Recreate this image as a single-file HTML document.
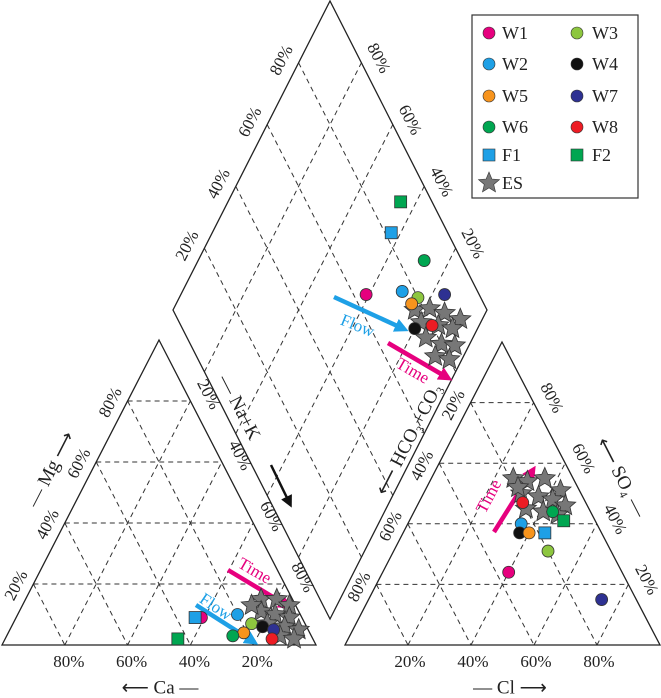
<!DOCTYPE html>
<html><head><meta charset="utf-8">
<style>
body{margin:0;background:#fff;}
svg{display:block;font-family:"Liberation Serif",serif;}
</style></head>
<body>
<svg id="chart" width="661" height="698" viewBox="0 0 661 698" xmlns="http://www.w3.org/2000/svg">
<defs>
<marker id="ahK" markerWidth="12" markerHeight="12" refX="8" refY="6" orient="auto" markerUnits="userSpaceOnUse"><path d="M0,0 L12,6 L0,12 Z" fill="#111"/></marker>
<marker id="ahM" markerWidth="14" markerHeight="14" refX="9" refY="7" orient="auto" markerUnits="userSpaceOnUse"><path d="M0,0 L14,7 L0,14 Z" fill="#e6007e"/></marker>
<marker id="ahB" markerWidth="14" markerHeight="14" refX="9" refY="7" orient="auto" markerUnits="userSpaceOnUse"><path d="M0,0 L14,7 L0,14 Z" fill="#1ea0e6"/></marker>
</defs>
<g id="grid"></g>
<g id="frames"></g>
<g id="labels"></g>
<g id="marks"></g>
<g id="legend"></g>
</svg>
<script>
// ---- data (percentages) ----
const sampleNames = ["W1","W2","W3","W4","W5","W6","W7","W8","F1","F2"];
const sampleMg  = [9, 10, 7, 6, 4, 3, 5, 2, 9, 2];
const sampleNaK = [59, 70, 76, 80, 75, 72, 84, 85, 57, 55];
const sampleSO4 = [24, 40, 31, 37, 37, 44, 15, 47, 37, 41];
const sampleCl  = [40, 36, 49, 37, 40, 44, 74, 33, 45, 49];
const starMg  = [15, 15, 13, 11, 10, 9, 7, 6, 5, 3, 2, 13];
const starNaK = [75, 80, 85, 77, 82, 87, 81, 87, 92, 87, 92, 73];
const starSO4 = [55, 54, 55, 51, 50, 49, 48, 46, 45, 44, 43, 52];
const starCl  = [26, 31, 36, 43, 31, 37, 42, 47, 35, 41, 46, 29];
const starDiaNaK = [77, 81.5, 87, 93, 81, 87, 92, 85, 91, 95.5, 91, 96];
const starDiaS   = [77, 82, 86, 90, 77, 82, 86, 76, 80, 84, 76, 80];
const tickPct = [20, 40, 60, 80];
const tickLabels = ["20%","40%","60%","80%"];

const colors = {W1:"#e6007e",W2:"#1ea0e6",W3:"#8dc63f",W4:"#111111",W5:"#f7941d",W6:"#00a651",W7:"#2e3192",W8:"#ed1c24",F1:"#1ea0e6",F2:"#00a651"};
const NS="http://www.w3.org/2000/svg";

const LT={bl:[2,645],br:[316,645],ap:[159,340]};
const RT={bl:[345,645],br:[660,645],ap:[502,342]};
const DM={b:[330,619],l:[173,310],r:[487,310],t:[330,1]};

function tri(T,a,b,c){
  return [T.bl[0]*a+T.ap[0]*b+T.br[0]*c, T.bl[1]*a+T.ap[1]*b+T.br[1]*c];
}
function leftPt(mg,nak){mg/=100;nak/=100;return tri(LT,1-mg-nak,mg,nak);}
function rightPt(so4,cl){so4/=100;cl/=100;return tri(RT,1-so4-cl,so4,cl);}
function diaPt(nak,s){const a=1-nak/100,b=s/100;
  return [DM.b[0]+a*(DM.l[0]-DM.b[0])+b*(DM.r[0]-DM.b[0]), DM.b[1]+a*(DM.l[1]-DM.b[1])+b*(DM.r[1]-DM.b[1])];}

function mk(tag,attrs,parent){const e=document.createElementNS(NS,tag);for(const k in attrs)e.setAttribute(k,attrs[k]);parent.appendChild(e);return e;}
const G=id=>document.getElementById(id);

const grid=G("grid");
function dash(p,q,name){const l=mk("line",{x1:p[0],y1:p[1],x2:q[0],y2:q[1],stroke:"#333","stroke-width":1,"stroke-dasharray":"5,4"},grid);
  
  }
tickPct.forEach(k=>{const f=k/100;
  dash(tri(LT,1-f,f,0),tri(LT,0,f,1-f),'cation-grid-mg');
  dash(tri(LT,f,1-f,0),tri(LT,f,0,1-f),'cation-grid-ca');
  dash(tri(LT,1-f,0,f),tri(LT,0,1-f,f),'cation-grid-nak');
  dash(tri(RT,1-f,f,0),tri(RT,0,f,1-f),'anion-grid-so4');
  dash(tri(RT,f,1-f,0),tri(RT,f,0,1-f),'anion-grid-hco3');
  dash(tri(RT,1-f,0,f),tri(RT,0,1-f,f),'anion-grid-cl');
  dash(diaPt(k,0),diaPt(k,100),'diamond-grid-nak');
  dash(diaPt(0,k),diaPt(100,k),'diamond-grid-s');
});
const fr=G("frames");
function poly(pts,name){const p=mk("polygon",{points:pts.map(q=>q.join(",")).join(" "),fill:"none",stroke:"#222","stroke-width":1.3},fr);
  
  }
poly([LT.bl,LT.ap,LT.br],'cation-triangle');
poly([RT.bl,RT.ap,RT.br],'anion-triangle');
poly([DM.b,DM.l,DM.t,DM.r],'diamond-field');

const lb=G("labels");
function txt(x,y,s,rot,name,size,fill){const t=mk("text",{x:x,y:y,"text-anchor":"middle","dominant-baseline":"middle","font-size":size||17,fill:fill||"#222",transform:rot?`rotate(${rot} ${x} ${y})`:""},lb);
  t.textContent=s;
  
  return t;}
const A=62.8;
tickPct.forEach((k,i)=>{const f=k/100,L=tickLabels[i];
  let p=tri(LT,f,0,1-f); txt(p[0]+4,663,L,0,'ca-tick-label');
  p=tri(LT,1-f,f,0); txt(p[0]-16,p[1]+2,L,-A,'mg-tick-label');
  p=tri(LT,0,1-f,f); txt(p[0]+17,p[1]-6,L,A,'nak-tick-label');
  p=tri(RT,1-f,0,f); txt(p[0]+2,663,L,0,'cl-tick-label');
  p=tri(RT,f,1-f,0); txt(p[0]-16,p[1]+3,L,-A,'hco3-tick-label');
  p=tri(RT,0,f,1-f); txt(p[0]+17,p[1]-4,L,A,'so4-tick-label');
  p=diaPt(100-k,100); txt(p[0]+16,p[1]-4,L,A,'diamond-ne-tick-label');
  p=diaPt(0,k); txt(p[0]-16,p[1]-2,L,-A,'diamond-nw-tick-label');
});
txt(160,689,"\u27F5 Ca \u2014",0,'ca-axis-title',19);
txt(510,689,"\u2014 Cl \u27F6",0,'cl-axis-title',19);
txt(52,470,"\u2014 Mg \u27F6",-A,'mg-axis-title',19);
txt(238,408,"\u2014 Na+K",A,'nak-axis-title',19);
txt(620,478,"\u27F5 SO\u2084 \u2014",A,'so4-axis-title',19);
txt(410,440,"\u27F5 HCO\u2083+CO\u2083",-A,'hco3-axis-title',19);
(function(){const l=mk("line",{x1:271,y1:465,x2:290,y2:504,stroke:"#111","stroke-width":2.5,"marker-end":"url(#ahK)"},lb);
  
  })();

function arrow(x1,y1,x2,y2,col,m,name){const l=mk("line",{x1:x1,y1:y1,x2:x2,y2:y2,stroke:col,"stroke-width":4.5,"marker-end":`url(#${m})`},lb);
  
  }
arrow(334,297,404,329,"#1ea0e6","ahB",'diamond-flow-arrow');
txt(357,327,"Flow",22,'diamond-flow-label',17,"#1ea0e6");
arrow(388,343,448,378,"#e6007e","ahM",'diamond-time-arrow');
txt(412,372,"Time",30,'diamond-time-label',17,"#e6007e");
arrow(228,570,288,606,"#e6007e","ahM",'cation-time-arrow');
txt(254,572,"Time",30,'cation-time-label',17,"#e6007e");
arrow(196,605,254,642,"#1ea0e6","ahB",'cation-flow-arrow');
txt(215,608,"Flow",34,'cation-flow-label',17,"#1ea0e6");
arrow(494,532,533,470,"#e6007e","ahM",'anion-time-arrow');
txt(490,497,"Time",-62,'anion-time-label',17,"#e6007e");

const mg=G("marks");
function star(x,y,r,name){const pts=[];for(let i=0;i<10;i++){const rr=i%2?r*0.45:r,a=-Math.PI/2+i*Math.PI/5;pts.push((x+rr*Math.cos(a)).toFixed(1)+","+(y+rr*Math.sin(a)).toFixed(1));}
  const p=mk("polygon",{points:pts.join(" "),fill:"#777",stroke:"#333","stroke-width":0.8},mg);
  
  }
function sample(p,n,name){const c=colors[n];let e;
  if(n[0]==="F") e=mk("rect",{x:p[0]-6,y:p[1]-6,width:12,height:12,fill:c,stroke:"#333","stroke-width":0.8},mg);
  else e=mk("circle",{cx:p[0],cy:p[1],r:6,fill:c,stroke:"#333","stroke-width":0.8},mg);
  
  }
starMg.forEach((v,i)=>{
  const a=leftPt(v,starNaK[i]); star(a[0],a[1],11,'es-cation-point');
  const b=rightPt(starSO4[i],starCl[i]); star(b[0],b[1],11,'es-anion-point');
});
starDiaNaK.forEach((v,i)=>{
  const d=diaPt(v,starDiaS[i]); star(d[0],d[1],11,'es-diamond-point');
});
sampleNames.forEach((n,i)=>{
  sample(leftPt(sampleMg[i],sampleNaK[i]),n,'cation-point-'+n.toLowerCase());
  sample(rightPt(sampleSO4[i],sampleCl[i]),n,'anion-point-'+n.toLowerCase());
  sample(diaPt(sampleNaK[i],sampleSO4[i]+sampleCl[i]),n,'diamond-point-'+n.toLowerCase());
});

const lg=G("legend");
(function(){const r=mk("rect",{x:472,y:15,width:166,height:183,fill:"#fff",stroke:"#333","stroke-width":1.2},lg);
  
  })();
const legendRows=[["W1","W3"],["W2","W4"],["W5","W7"],["W6","W8"],["F1","F2"]];
const rowY=[33,64,96,127,155];
legendRows.forEach((row,ri)=>{row.forEach((n,ci)=>{
  const mx=ci?577:489,tx=ci?592:502,y=rowY[ri];
  const c=colors[n];let e;
  if(n[0]==="F") e=mk("rect",{x:mx-6,y:y-6,width:12,height:12,fill:c,stroke:"#333","stroke-width":0.6},lg);
  else e=mk("circle",{cx:mx,cy:y,r:6,fill:c,stroke:"#333","stroke-width":0.6},lg);
  
  
  const t=mk("text",{x:tx,y:y+6,"font-size":18,fill:"#222"},lg);t.textContent=n;
  
  
});});
(function(){const pts=[];const x=489,y=183,r=11;for(let i=0;i<10;i++){const rr=i%2?r*0.45:r,a=-Math.PI/2+i*Math.PI/5;pts.push((x+rr*Math.cos(a)).toFixed(1)+","+(y+rr*Math.sin(a)).toFixed(1));}
  const p=mk("polygon",{points:pts.join(" "),fill:"#777",stroke:"#333","stroke-width":0.6},lg);
  
  
  const t=mk("text",{x:502,y:189,"font-size":18,fill:"#222"},lg);t.textContent="ES";
  
  })();
</script>
</body></html>
